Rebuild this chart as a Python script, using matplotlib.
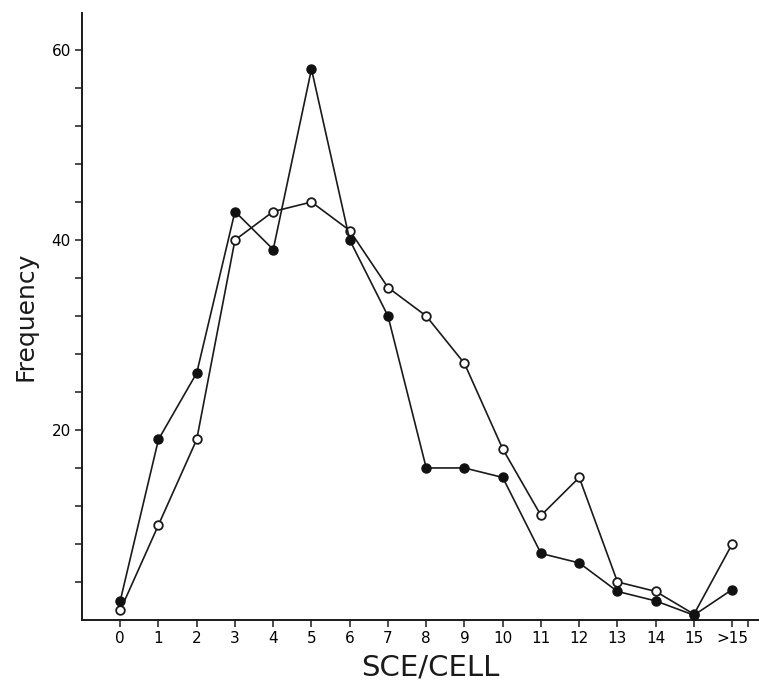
import numpy as np
import matplotlib.pyplot as plt

# SCE per cell categories (last one is ">15")
categories = ['0', '1', '2', '3', '4', '5', '6', '7', '8', '9',
              '10', '11', '12', '13', '14', '15', '>15']

# frequencies
filled_freq = [2, 19, 26, 43, 39, 58, 40, 32, 16, 16, 15, 7, 6, 3, 2, 0.5, 3.2]
open_freq = [1, 10, 19, 40, 43, 44, 41, 35, 32, 27, 18, 11, 15, 4, 3, 0.6, 8]

y_ticks = np.arange(4, 61, 4)
y_labels = [str(v) if v in (20, 40, 60) else '' for v in y_ticks]

fig = plt.figure(figsize=(7.59, 6.85), dpi=100)
ax = fig.add_axes([0.108, 0.095, 0.892, 0.886])

x = np.arange(len(categories))

ax.plot(x, open_freq, '-', color='#1a1a1a', linewidth=1.2, marker='o',
        markersize=6.2, markerfacecolor='white', markeredgecolor='#1a1a1a',
        markeredgewidth=1.3, zorder=3)
ax.plot(x, filled_freq, '-', color='#1a1a1a', linewidth=1.2, marker='o',
        markersize=6.5, markerfacecolor='#111111', markeredgecolor='#111111',
        zorder=4)

ax.set_xlim(-1.0, 16.7)
ax.set_ylim(0, 63.9)

tick_font = {'family': ['Liberation Sans Narrow', 'DejaVu Sans'], 'size': 11}
ax.set_xticks(list(x) + [16.4])
ax.set_xticklabels(categories + [''], fontdict=tick_font)
ax.set_yticks(y_ticks)
ax.set_yticklabels(y_labels, fontdict=tick_font)
ax.tick_params(axis='both', direction='out', length=5, width=1.1,
               color='#1a1a1a', pad=3)

for side in ('top', 'right'):
    ax.spines[side].set_visible(False)
for side in ('left', 'bottom'):
    ax.spines[side].set_linewidth(1.4)
    ax.spines[side].set_color('#1a1a1a')

ax.set_xlabel('SCE/CELL', fontsize=21, family='DejaVu Sans', color='#1a1a1a')
ax.xaxis.set_label_coords(0.515, -0.055)
ax.set_ylabel('Frequency', fontsize=18, family='DejaVu Sans', color='#1a1a1a')
ax.yaxis.set_label_coords(-0.065, 0.5)

plt.savefig('out.png', dpi=100)
